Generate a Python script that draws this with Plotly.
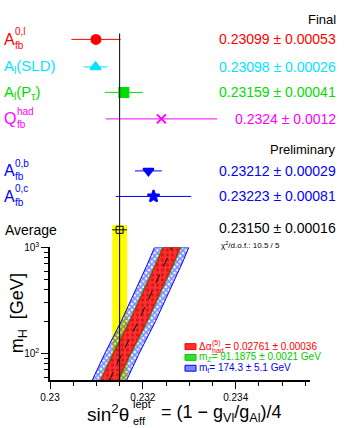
import plotly.graph_objects as go

# measurements: sin^2 theta_eff^lept
labels = ["A_fb^0,l", "A_l(SLD)", "A_l(P_tau)", "Q_fb^had", "A_fb^0,b", "A_fb^0,c"]
values = [0.23099, 0.23098, 0.23159, 0.2324, 0.23212, 0.23223]
errors = [0.00053, 0.00026, 0.00041, 0.0012, 0.00029, 0.00081]
value_text = ["0.23099 \u00b1 0.00053", "0.23098 \u00b1 0.00026", "0.23159 \u00b1 0.00041",
              "0.2324 \u00b1 0.0012", "0.23212 \u00b1 0.00029", "0.23223 \u00b1 0.00081"]
avg_value = 0.23150
avg_error = 0.00016
chi2_text = "\u03c7<sup>2</sup>/d.o.f.: 10.5 / 5"

# Standard Model prediction vs m_H
mh = [56, 100, 200, 400, 700, 1000]
sm_center = [0.23128, 0.23155, 0.23190, 0.23222, 0.23247, 0.23262]
halfwidth_mt = 0.00037
halfwidth_mz = 0.00020
halfwidth_alpha = 0.00018

# styles / layout (pixel rows for the upper panel)
row_y = [33, 61, 87, 114, 167, 193]
avg_y = 227
colors = ["#ff0000", "#00e5ff", "#00dd00", "#ff00ff", "#0000ff", "#0000ff"]
symbols = ["circle", "triangle-up", "square", "x-thin-open", "triangle-down", "star"]
msizes = [9, 9, 9, 9, 9, 9]

W, H = 346, 428
L, R, T, B = 50, 36, 0, 48
PW, PH = W - L - R, H - T - B
FONT = "Liberation Sans, Arial, sans-serif"


def px(x):
    return (x - L) / PW


def py(y):
    return (H - B - y) / PH


fig = go.Figure()

# upper panel measurements
for i in range(len(values)):
    fig.add_trace(go.Scatter(
        x=[values[i]], y=[row_y[i]], mode="markers",
        marker=dict(symbol=symbols[i], size=msizes[i], color=colors[i],
                    line=dict(color=colors[i], width=2)),
        error_x=dict(type="data", array=[errors[i]], color=colors[i], thickness=1, width=0),
        xaxis="x", yaxis="y", showlegend=False, cliponaxis=False))

fig.add_trace(go.Scatter(
    x=[avg_value], y=[avg_y], mode="markers",
    marker=dict(symbol="square-open", size=7, color="black", line=dict(width=1)),
    error_x=dict(type="data", array=[avg_error], color="black", thickness=1, width=0),
    xaxis="x", yaxis="y", showlegend=False, cliponaxis=False))


def band(half):
    xs = [c - half for c in sm_center] + [c + half for c in sm_center][::-1]
    ys = mh + mh[::-1]
    return xs, ys


bx, by = band(halfwidth_mt)
fig.add_trace(go.Scatter(x=bx, y=by, fill="toself", mode="lines",
                         line=dict(color="#0000ff", width=1),
                         fillcolor="rgba(0,0,0,0)",
                         fillpattern=dict(shape="x", fgcolor="#0022ff", bgcolor="rgba(0,0,0,0)",
                                          size=4, solidity=0.7),
                         xaxis="x2", yaxis="y2", showlegend=False, hoverinfo="skip"))
gx, gy = band(halfwidth_mz)
fig.add_trace(go.Scatter(x=gx, y=gy, fill="toself", mode="lines",
                         line=dict(color="#00aa00", width=1),
                         fillcolor="rgba(0,0,0,0)",
                         fillpattern=dict(shape="|", fgcolor="#00cc00", bgcolor="rgba(0,0,0,0)",
                                          size=4, solidity=0.4),
                         xaxis="x2", yaxis="y2", showlegend=False, hoverinfo="skip"))
rx, ry = band(halfwidth_alpha)
fig.add_trace(go.Scatter(x=rx, y=ry, fill="toself", mode="lines",
                         line=dict(color="#ff0000", width=1),
                         fillcolor="#ff2a2a",
                         fillpattern=dict(shape=".", fgcolor="#aa0000", bgcolor="#ff3030",
                                          size=5, solidity=0.35),
                         xaxis="x2", yaxis="y2", showlegend=False, hoverinfo="skip"))
fig.add_trace(go.Scatter(x=sm_center, y=mh, mode="lines",
                         line=dict(color="black", width=1, dash="dash"),
                         xaxis="x2", yaxis="y2", showlegend=False, hoverinfo="skip"))

# yellow average band and vertical line
fig.add_shape(type="rect", xref="x2", yref="paper", x0=avg_value - avg_error,
              x1=avg_value + avg_error, y0=0, y1=py(222),
              fillcolor="#ffff00", line=dict(width=0), layer="below")
fig.add_shape(type="line", xref="x2", yref="paper", x0=avg_value, x1=avg_value,
              y0=0, y1=py(27), line=dict(color="black", width=1), layer="above")

ann = []


def text(x, y, s, size, color="black", anchor="left", **kw):
    ann.append(dict(x=px(x), y=py(y), xref="paper", yref="paper", text=s, showarrow=False,
                    xanchor=anchor, yanchor="middle", font=dict(size=size, color=color, family=FONT),
                    borderpad=0, **kw))


# left labels
def stacked(x, y, base, sup, sub, color, size=16, dx=11, small=10):
    text(x, y, base, size, color)
    text(x + dx, y - 8, sup, small, color)
    text(x + dx, y + 6, sub, small, color)


stacked(3, row_y[0], "A", "0,l", "fb", colors[0])
text(3, row_y[1], "A<sub>l</sub>(SLD)", 15, colors[1])
text(3, row_y[2], "A<sub>l</sub>(P<sub>\u03c4</sub>)", 15, colors[2])
stacked(3, row_y[3], "Q", "had", "fb", colors[3], dx=13)
stacked(3, row_y[4], "A", "0,b", "fb", colors[4])
stacked(3, row_y[5], "A", "0,c", "fb", colors[5])
text(4, avg_y, "Average", 14)

# right values
text(337, 13, "Final", 13, anchor="right")
text(337, 145, "Preliminary", 13, anchor="right")
for i in range(len(values)):
    text(337, row_y[i], value_text[i], 14, colors[i], anchor="right")
text(337, 225, "%.5f \u00b1 %.5f" % (avg_value, avg_error), 14, anchor="right")
text(281, 242, chi2_text, 8, anchor="right")

# legend for the bands
legend_items = [
    ("#ff0000", "#ff3030"),
    ("#00cc00", "#33dd33"),
    ("#0000ff", "#7788ff"),
]
for k, (c, fc) in enumerate(legend_items):
    yy = 346 + 11 * k
    fig.add_shape(type="rect", xref="paper", yref="paper", x0=px(185), x1=px(196),
                  y0=py(yy + 3), y1=py(yy - 3), fillcolor=fc, line=dict(color=c, width=1))
text(198, 346, "\u0394\u03b1", 10, "#ff0000")
text(211, 342, "(5)", 7, "#ff0000")
text(211, 350, "had", 7, "#ff0000")
text(224, 346, "= 0.02761 \u00b1 0.00036", 10, "#ff0000")
text(198, 357, "m<sub>Z</sub>= 91.1875 \u00b1 0.0021 GeV", 10, "#00cc00")
text(198, 368, "m<sub>t</sub>= 174.3 \u00b1 5.1 GeV", 10, "#0000ff")

# axis titles
text(18, 312, "m<sub>H</sub>  [GeV]", 18, anchor="center", textangle=-90)
text(130, 414, "sin<sup>2</sup>\u03b8", 19, anchor="right")
text(132, 404, "lept", 11)
text(132, 422, "eff", 11)
text(160, 414, "= (1 \u2212 g<sub>Vl</sub>/g<sub>Al</sub>)/4", 18)

fig.update_layout(
    width=W, height=H,
    margin=dict(l=L, r=R, t=T, b=B),
    plot_bgcolor="white", paper_bgcolor="white",
    font=dict(family=FONT, color="black"),
    xaxis=dict(domain=[0, 1], anchor="y", matches="x2", visible=False),
    yaxis=dict(domain=[py(240), 1], range=[240, 0], visible=False),
    xaxis2=dict(domain=[0, 1], anchor="y2", range=[0.23, 0.2356],
                showline=True, linecolor="black", linewidth=1.5, mirror=False,
                ticks="outside", ticklen=7, tickwidth=1, tickcolor="black",
                tickvals=[0.23, 0.232, 0.234], ticktext=["0.23", "0.232", "0.234"],
                tickfont=dict(size=10),
                minor=dict(ticks="outside", ticklen=4, dtick=0.0005, tick0=0.23, tickcolor="black"),
                showgrid=False, zeroline=False),
    yaxis2=dict(domain=[0, py(245)], anchor="x2", type="log", range=[1.75, 3],
                showline=True, linecolor="black", linewidth=1.5,
                ticks="outside", ticklen=7, tickcolor="black",
                tickvals=[100, 1000], ticktext=["10<sup>2</sup>", "10<sup>3</sup>"],
                tickfont=dict(size=10),
                minor=dict(ticks="outside", ticklen=4, tickcolor="black",
                           tickvals=[60, 70, 80, 90, 200, 300, 400, 500, 600, 700, 800, 900]),
                showgrid=False, zeroline=False),
    annotations=ann,
)

fig.write_html("out.html", config={"displayModeBar": False},
               post_script="document.body.style.margin='0';")
